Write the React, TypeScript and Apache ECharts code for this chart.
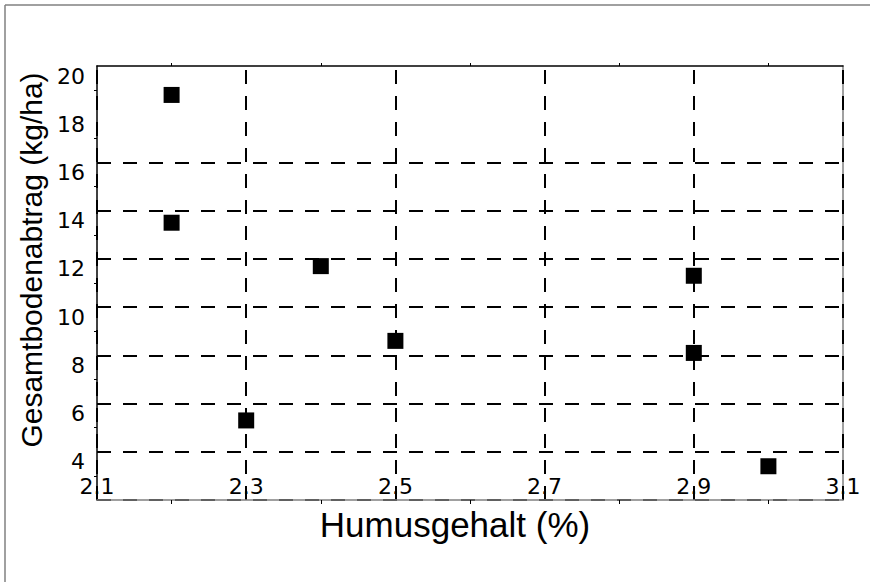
import React, { useEffect, useRef } from "react";
import * as echarts from "echarts";

const humus = [2.2, 2.2, 2.3, 2.4, 2.5, 2.9, 2.9, 3.0];
const abtrag = [18.8, 13.5, 5.3, 11.7, 8.6, 11.3, 8.1, 3.4];
const xGridLines = [2.1, 2.3, 2.5, 2.7, 2.9, 3.1];
const yGridLines = [2, 4, 6, 8, 10, 12, 14, 16];
const xTitle = "Humusgehalt (%)";
const yTitle = "Gesamtbodenabtrag (kg/ha)";

const FONT = "'Liberation Sans', Arial, sans-serif";
const TICK_FONT = "'DejaVu Sans', 'Liberation Sans', sans-serif";

export default function App() {
  const ref = useRef<HTMLDivElement>(null);
  useEffect(() => {
    if (!ref.current) return;
    const chart = echarts.init(ref.current, undefined, { renderer: "svg" });
    const points = humus.map((h, i) => [h, abtrag[i]]);
    const dash = { color: "#000", width: 2, type: [14, 12] as any };
    chart.setOption({
      animation: false,
      backgroundColor: "#fff",
      textStyle: { fontFamily: FONT },
      grid: { left: 97, top: 66, right: 31, bottom: 82, containLabel: false },
      xAxis: [
        {
          type: "value",
          position: "bottom",
          min: 2.1,
          max: 3.1,
          interval: 0.2,
          z: 10,
          axisLine: { show: true, lineStyle: { color: "#808080", width: 1.5 } },
          axisTick: { show: false },
          minorTick: { show: true, splitNumber: 2, length: 4, lineStyle: { color: "#000", width: 1 } },
          splitLine: { show: false },
          minorSplitLine: { show: false },
          axisLabel: {
            inside: true,
            margin: 3,
            color: "#000",
            fontSize: 22,
            lineHeight: 22,
            fontFamily: TICK_FONT,
            showMinLabel: true,
            showMaxLabel: true,
            formatter: (v: number) => v.toFixed(1),
          },
        },
        {
          type: "value",
          position: "top",
          min: 2.1,
          max: 3.1,
          interval: 0.2,
          axisLine: { show: true, lineStyle: { color: "#000", width: 1.5 } },
          axisTick: { show: false },
          minorTick: { show: true, splitNumber: 2, length: 3, lineStyle: { color: "#000", width: 1 } },
          splitLine: { show: false },
          axisLabel: { show: false },
        },
      ],
      yAxis: [
        {
          type: "value",
          position: "left",
          min: 2,
          max: 20,
          interval: 2,
          axisLine: { show: true, lineStyle: { color: "#000", width: 1.5 } },
          axisTick: { show: false },
          minorTick: { show: true, splitNumber: 2, length: 3, lineStyle: { color: "#000", width: 1 } },
          splitLine: { show: false },
          axisLabel: {
            margin: 12,
            color: "#000",
            fontSize: 22,
            fontFamily: TICK_FONT,
            verticalAlign: "top",
            lineHeight: 20,
            formatter: (v: number) => (v === 2 ? "" : String(v)),
          },
        },
        {
          type: "value",
          position: "right",
          min: 2,
          max: 20,
          interval: 2,
          axisLine: { show: true, lineStyle: { color: "#808080", width: 1.5 } },
          axisTick: { show: false },
          splitLine: { show: false },
          axisLabel: { show: false },
        },
      ],
      series: [
        {
          type: "scatter",
          xAxisIndex: 0,
          yAxisIndex: 0,
          symbol: "rect",
          symbolSize: 16,
          itemStyle: { color: "#000", opacity: 1 },
          data: points,
          z: 5,
          markLine: {
            silent: true,
            symbol: "none",
            label: { show: false },
            lineStyle: dash,
            emphasis: { disabled: true },
            data: [
              ...xGridLines.map((v) => ({ xAxis: v })),
              ...yGridLines.map((v) => ({ yAxis: v })),
            ],
          },
        },
      ],
      graphic: [
        {
          type: "line",
          shape: { x1: 5, y1: 5, x2: 870, y2: 5 },
          style: { stroke: "#808080", lineWidth: 1.5 },
        },
        {
          type: "line",
          shape: { x1: 5, y1: 5, x2: 5, y2: 582 },
          style: { stroke: "#808080", lineWidth: 1.5 },
        },
        {
          type: "text",
          x: 31,
          y: 260,
          rotation: Math.PI / 2,
          style: {
            text: yTitle,
            font: `30px ${FONT}`,
            fill: "#000",
            textAlign: "center",
            textVerticalAlign: "middle",
          },
        },
        {
          type: "text",
          x: 455,
          y: 524,
          style: {
            text: xTitle,
            font: `35px ${FONT}`,
            fill: "#000",
            textAlign: "center",
            textVerticalAlign: "middle",
          },
        },
      ],
    });
    return () => chart.dispose();
  }, []);
  return (
    <div
      ref={ref}
      style={{ position: "absolute", left: 0, top: 0, width: 874, height: 582 }}
    />
  );
}
